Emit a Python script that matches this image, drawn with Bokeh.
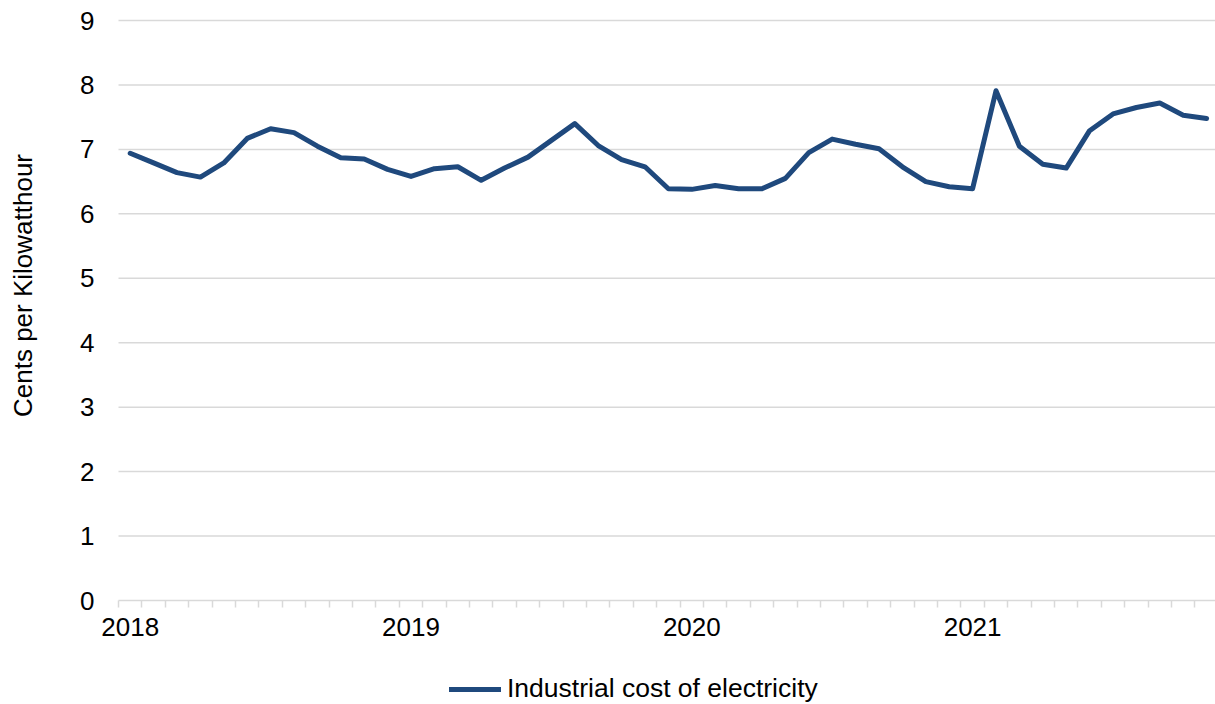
import math
from bokeh.plotting import figure
from bokeh.models import (FixedTicker, Legend, LegendItem, Range1d, LinearAxis, Label)
from bokeh.embed import file_html
from bokeh.resources import INLINE

# Monthly industrial electricity price, Jan 2018 - Nov 2021 (cents per kWh)
months = [f"{y}-{m:02d}" for y in range(2018, 2022) for m in range(1, 13)][:47]
cost = [6.94, 6.79, 6.64, 6.57, 6.79, 7.17, 7.32, 7.26, 7.05, 6.87, 6.85, 6.69,
        6.58, 6.70, 6.73, 6.52, 6.71, 6.88, 7.14, 7.40, 7.06, 6.84, 6.73, 6.39,
        6.38, 6.44, 6.39, 6.39, 6.55, 6.95, 7.16, 7.08, 7.01, 6.73, 6.50, 6.42,
        6.39, 7.91, 7.05, 6.77, 6.71, 7.29, 7.55, 7.65, 7.72, 7.53, 7.48]
year_labels = ["2018", "2019", "2020", "2021"]
y_ticks = [0, 1, 2, 3, 4, 5, 6, 7, 8, 9]

FONT = "Liberation Sans"
FS = "26px"
GRID = "#d9d9d9"
LINE = "#1F497D"

# page geometry (pixels): plotting area runs from x=118 to the right edge,
# and from y=20 (value 9) down to y=600 (value 0)
W, H = 1215, 704
LEFT, TOP, BASE = 118, 20, 600
Y_MAX = 9
MONTH_PX = 23.4
UNIT_PX = (BASE - TOP) / Y_MAX

x_start = -0.5 - LEFT / MONTH_PX
x_end = -0.5 + (W - LEFT) / MONTH_PX
y_start = -(H - BASE) / UNIT_PX
y_end = Y_MAX + TOP / UNIT_PX

idx = list(range(len(months)))

p = figure(width=W, height=H, output_backend="svg", toolbar_location=None,
           x_range=Range1d(x_start, x_end), y_range=Range1d(y_start, y_end),
           x_axis_location=None, y_axis_location=None,
           min_border=0, min_border_left=0, min_border_right=0,
           min_border_top=0, min_border_bottom=0)
p.outline_line_color = None
p.background_fill_color = "white"
p.border_fill_color = "white"
p.xgrid.visible = False
p.ygrid.visible = False

# horizontal gridlines 1..9 across the plotting area only
grid_y = y_ticks[1:]
p.segment(x0=[-0.5] * len(grid_y), y0=grid_y, x1=[x_end] * len(grid_y), y1=grid_y,
          line_color=GRID, line_width=1.5, level="underlay")

r = p.line(idx, cost, line_color=LINE, line_width=5, line_join="round",
           line_cap="round")

# x axis along zero: year labels under January, small ticks at month boundaries
year_pos = [months.index(f"{y}-01") for y in year_labels]
xa = LinearAxis(fixed_location=0, bounds=(-0.5, x_end),
                ticker=FixedTicker(ticks=year_pos,
                                   minor_ticks=[i - 0.5 for i in range(len(months) + 1)]),
                major_label_overrides={pos: lab for pos, lab in zip(year_pos, year_labels)},
                major_tick_line_color=None,
                minor_tick_line_color=GRID, minor_tick_line_width=1.5,
                minor_tick_out=7, minor_tick_in=0,
                axis_line_color=GRID, axis_line_width=1.5,
                major_label_text_font=FONT, major_label_text_font_size=FS,
                major_label_text_color="black", major_label_standoff=10)
p.add_layout(xa, "below")

ya = LinearAxis(fixed_location=-0.5, bounds=(0, Y_MAX),
                ticker=FixedTicker(ticks=y_ticks),
                axis_line_color=None, major_tick_line_color=None,
                minor_tick_line_color=None,
                major_label_text_font=FONT, major_label_text_font_size=FS,
                major_label_text_color="black", major_label_standoff=18)
p.add_layout(ya, "left")

# y axis title
p.add_layout(Label(x=x_start + 22 / MONTH_PX, y=(BASE - 285) / UNIT_PX,
                   text="Cents per Kilowatthour", angle=math.pi / 2,
                   text_align="center", text_baseline="middle",
                   text_font=FONT, text_font_size=FS, text_color="black"))

legend = Legend(items=[LegendItem(label="Industrial cost of electricity", renderers=[r])],
                location=(449, 0), orientation="horizontal",
                label_text_font=FONT, label_text_font_size="26.5px",
                label_text_color="black", glyph_width=52, glyph_height=28,
                label_standoff=6, padding=0, margin=0, spacing=0,
                border_line_color=None, background_fill_alpha=0)
p.add_layout(legend)

open("out.html", "w").write(file_html(p, INLINE))
